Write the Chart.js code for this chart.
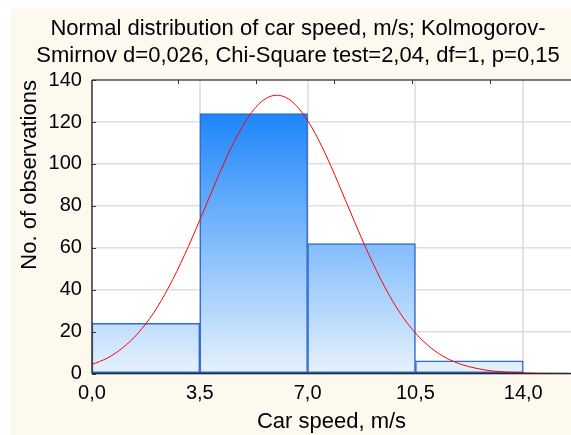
<!DOCTYPE html>
<html>
<head>
<meta charset="utf-8">
<script src="https://cdn.jsdelivr.net/npm/chart.js@4"></script>
<style>
  html, body { margin: 0; padding: 0; background: #fff; }
  #wrap { position: absolute; left: 11px; top: 8px; width: 560px; height: 427px; background: #fef9ee; }
</style>
</head>
<body>
<div id="wrap"><canvas id="chart"></canvas></div>
<script>
// histogram bins (m/s) and counts
const binEdges = [0, 3.5, 7, 10.5, 14];
const counts = [24, 124, 62, 6];

// fitted normal curve
const fitX = [0, 0.5, 1, 1.5, 2, 2.5, 3, 3.5, 4, 4.5, 5, 5.5, 6, 6.5, 7, 7.5, 8,
  8.5, 9, 9.5, 10, 10.5, 11, 11.5, 12, 12.5, 13, 13.5, 14, 14.5, 15, 15.5];
const fitY = [4.3, 7.4, 12.3, 19.3, 28.9, 41.4, 56.4, 73.2, 90.7, 107.2, 120.7, 129.7, 132.8,
  129.7, 120.7, 107.2, 90.7, 73.2, 56.4, 41.4, 28.9, 19.3, 12.3, 7.4, 4.3, 2.4, 1.2, 0.6,
  0.3, 0.1, 0.06, 0.02];

const xTicks = [0, 3.5, 7, 10.5, 14];
const yTicks = [0, 20, 40, 60, 80, 100, 120, 140];
const topTicks = [1, 2, 3, 4, 5];

const FONT = "'Liberation Sans', Arial, sans-serif";

const barData = counts.map((c, i) => ({ x: (binEdges[i] + binEdges[i + 1]) / 2, y: c }));
const fitData = fitX.map((x, i) => ({ x: x, y: fitY[i] }));

// white plot area, frame lines and inner tick marks
const framePlugin = {
  id: 'frame',
  beforeDraw(chart) {
    const { ctx, chartArea: a } = chart;
    ctx.save();
    ctx.fillStyle = '#fff';
    ctx.fillRect(a.left, a.top, a.right - a.left, a.bottom - a.top);
    ctx.restore();
  },
  afterDatasetsDraw(chart) {
    const { ctx, chartArea: a, scales } = chart;
    ctx.save();
    ctx.lineWidth = 1.5;
    ctx.strokeStyle = '#555';
    ctx.beginPath();
    ctx.moveTo(a.left, a.top); ctx.lineTo(a.right, a.top);
    ctx.stroke();
    ctx.strokeStyle = '#3a3a3a';
    ctx.beginPath();
    ctx.moveTo(a.left, a.top); ctx.lineTo(a.left, a.bottom);
    ctx.stroke();
    ctx.strokeStyle = '#222a36';
    ctx.beginPath();
    ctx.moveTo(a.left, a.bottom); ctx.lineTo(a.right, a.bottom);
    ctx.stroke();
    ctx.lineWidth = 1;
    ctx.strokeStyle = '#333';
    scales.y.ticks.forEach(t => {
      const py = Math.round(scales.y.getPixelForValue(t.value)) + 0.5;
      ctx.beginPath(); ctx.moveTo(a.left, py); ctx.lineTo(a.left + 4, py); ctx.stroke();
    });
    scales.x2.ticks.forEach(t => {
      const px = Math.round(scales.x2.getPixelForValue(t.value)) + 0.5;
      ctx.beginPath(); ctx.moveTo(px, a.top); ctx.lineTo(px, a.top + 4); ctx.stroke();
    });
    ctx.restore();
  }
};

new Chart(document.getElementById('chart'), {
  type: 'bar',
  data: {
    datasets: [
      {
        type: 'line', label: 'Normal fit', data: fitData,
        borderColor: '#ff0000', borderWidth: 1, pointRadius: 0,
        cubicInterpolationMode: 'monotone', fill: false
      },
      {
        type: 'bar', label: 'Car speed', data: barData,
        backgroundColor: (c) => {
          const ch = c.chart;
          if (!ch.chartArea) return '#8fc4f8';
          const y = ch.scales.y;
          const g = ch.ctx.createLinearGradient(0, y.getPixelForValue(Math.max(...counts)), 0, y.getPixelForValue(0));
          g.addColorStop(0, '#1e86fb');
          g.addColorStop(1, '#e6f2fd');
          return g;
        },
        borderColor: '#2f6bd0', borderWidth: 1.5, borderSkipped: false,
        barPercentage: 1, categoryPercentage: 1
      }
    ]
  },
  options: {
    responsive: true,
    maintainAspectRatio: false,
    animation: false,
    layout: { padding: { left: 14 } },
    plugins: {
      legend: { display: false },
      tooltip: { enabled: false },
      title: {
        display: true,
        text: ['Normal distribution of car speed, m/s; Kolmogorov-',
               'Smirnov d=0,026, Chi-Square test=2,04, df=1, p=0,15'],
        color: '#000',
        font: { family: FONT, size: 22, weight: 'normal', lineHeight: 1.23 },
        padding: { top: 7, bottom: 11 }
      }
    },
    scales: {
      x: {
        type: 'linear', min: 0, max: 15.55, offset: false,
        afterBuildTicks: s => { s.ticks = xTicks.map(v => ({ value: v })); },
        grid: { color: '#e3e3e3', lineWidth: 2, drawTicks: false, offset: false },
        border: { display: false },
        ticks: {
          color: '#000', padding: 7.5,
          font: { family: FONT, size: 20 },
          callback: v => v.toFixed(1).replace('.', ',')
        },
        title: {
          display: true, text: 'Car speed, m/s', color: '#000',
          font: { family: FONT, size: 22 },
          padding: { top: -4.2, bottom: 0.3 }
        }
      },
      x2: {
        type: 'linear', position: 'top', min: 0.507, max: 5.43,
        afterBuildTicks: s => { s.ticks = topTicks.map(v => ({ value: v })); },
        grid: { display: false, drawTicks: false },
        border: { display: false },
        ticks: { display: false }
      },
      y: {
        min: 0, max: 140,
        afterBuildTicks: s => { s.ticks = yTicks.map(v => ({ value: v })); },
        grid: { color: '#dedede', lineWidth: 1.5, drawTicks: false },
        border: { display: false },
        ticks: { color: '#000', padding: 10, font: { family: FONT, size: 20 } },
        title: {
          display: true, text: 'No. of observations', color: '#000', align: 'end',
          font: { family: FONT, size: 22 },
          padding: { top: -8.5, bottom: -4.3 }
        }
      }
    }
  },
  plugins: [framePlugin]
});
</script>
</body>
</html>
